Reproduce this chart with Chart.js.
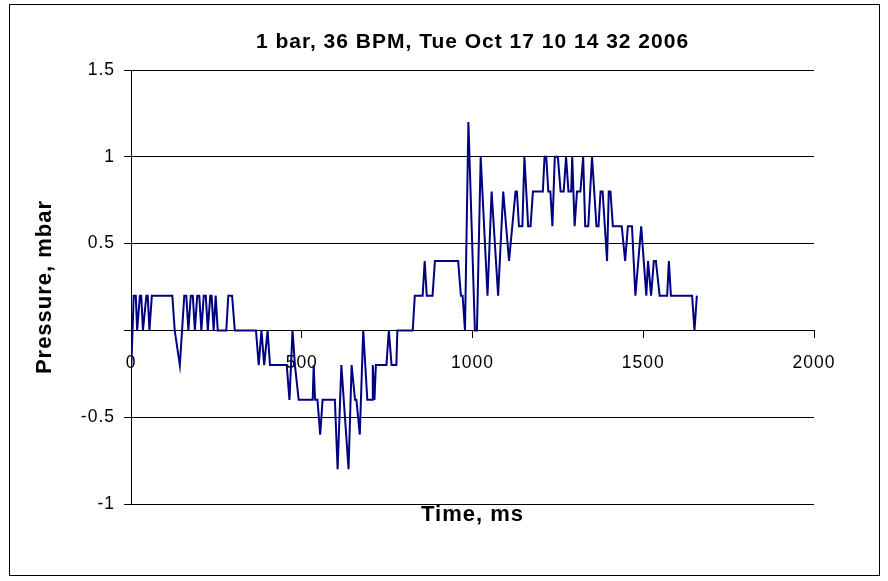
<!DOCTYPE html>
<html>
<head>
<meta charset="utf-8">
<title>Pressure trace</title>
<script src="https://cdn.jsdelivr.net/npm/chart.js@4.4.1/dist/chart.umd.min.js"></script>
<style>
  html, body { margin: 0; padding: 0; background: #fff; }
  canvas { display: block; }
</style>
</head>
<body>
<canvas id="chart" width="888" height="581"></canvas>
<script>
// Pressure trace: time in ms, pressure in mbar
const timeMs = [
    1, 8, 14, 18, 26, 30, 35, 45, 49, 54, 61, 121, 128, 143, 156, 162, 168, 175,
    181, 187, 194, 200, 206, 213, 219, 225, 232, 236, 242, 248, 254, 279, 285, 296, 304, 366,
    374, 382, 390, 400, 407, 456, 464, 473, 480, 491, 532, 535, 539, 546, 554, 561,
    597, 605, 616, 637, 646, 656, 660, 670, 680, 692, 706, 708, 713, 717, 748, 755, 763, 777, 780, 825,
    831, 854, 860, 866, 883, 890, 958, 966, 971, 978, 988, 1007, 1013, 1024, 1044, 1056,
    1075, 1090, 1107, 1126, 1130, 1136, 1146, 1152, 1163, 1170, 1177, 1206, 1211, 1216,
    1222, 1228, 1234, 1241, 1250, 1258, 1267, 1274, 1281, 1289, 1292, 1299, 1306, 1316,
    1324, 1330, 1339, 1350, 1363, 1369, 1375, 1381, 1394, 1399, 1404, 1411, 1437, 1447,
    1455, 1467, 1477, 1494, 1509, 1514, 1523, 1531, 1537, 1548, 1570, 1575, 1581, 1643, 1650, 1657
];
const pressureMbar = [
    -0.2, 0.2, 0.2, 0, 0.2, 0.2, 0, 0.2, 0.2, 0, 0.2, 0.2, 0, -0.2, 0.2, 0.2, 0, 0.2,
    0.2, 0, 0.2, 0.2, 0, 0.2, 0.2, 0, 0.2, 0.2, 0, 0.2, 0, 0, 0.2, 0.2, 0, 0,
    -0.2, 0, -0.2, 0, -0.2, -0.2, -0.4, 0, -0.2, -0.4, -0.4, -0.2, -0.4, -0.4, -0.6, -0.4,
    -0.4, -0.8, -0.2, -0.8, -0.2, -0.4, -0.4, -0.6, 0, -0.4, -0.4, -0.2, -0.4, -0.2, -0.2, 0, -0.2, -0.2, 0, 0,
    0.2, 0.2, 0.4, 0.2, 0.2, 0.4, 0.4, 0.2, 0.2, 0, 1.2, 0, 0, 1.0, 0.2, 0.8,
    0.2, 0.8, 0.4, 0.8, 0.8, 0.6, 0.6, 1.0, 0.6, 0.6, 0.8, 0.8, 1.0, 1.0,
    0.8, 0.8, 0.6, 1.0, 1.0, 0.8, 0.8, 1.0, 0.8, 0.8, 1.0, 0.6, 0.8, 0.8,
    1.0, 0.6, 0.6, 1.0, 0.6, 0.6, 0.8, 0.8, 0.4, 0.8, 0.8, 0.6, 0.6, 0.4,
    0.6, 0.6, 0.2, 0.6, 0.2, 0.4, 0.2, 0.4, 0.4, 0.2, 0.2, 0.4, 0.2, 0.2, 0, 0.2
];

const xTickValues = [0, 500, 1000, 1500, 2000];
const yTickValues = [-1, -0.5, 0, 0.5, 1, 1.5];

const chartTitle = '1 bar, 36 BPM, Tue Oct 17 10 14 32 2006';
const xAxisTitle = 'Time, ms';
const yAxisTitle = 'Pressure, mbar';

const FONT = "'Liberation Sans', Arial, sans-serif";

// Excel renders text a little wider than Arial metrics, so add some tracking
const textSpacing = {
    id: 'textSpacing',
    beforeUpdate(chart) { chart.ctx.letterSpacing = '1px'; },
    beforeDraw(chart) { chart.ctx.letterSpacing = '1px'; }
};

// thin frame around the whole chart object
const chartFrame = {
    id: 'chartFrame',
    afterDraw(chart) {
        const ctx = chart.ctx;
        ctx.save();
        ctx.strokeStyle = '#000';
        ctx.lineWidth = 1;
        ctx.strokeRect(9.5, 4.5, 870, 571);
        ctx.restore();
    }
};

const points = timeMs.map((t, i) => ({ x: t, y: pressureMbar[i] }));

new Chart(document.getElementById('chart'), {
    type: 'scatter',
    data: {
        datasets: [{
            data: points,
            showLine: true,
            borderColor: '#000080',
            borderWidth: 2,
            pointRadius: 0,
            fill: false,
            tension: 0
        }]
    },
    options: {
        animation: false,
        responsive: false,
        devicePixelRatio: 1,
        layout: { padding: { left: 10, right: 74, top: 0, bottom: 0 } },
        plugins: {
            legend: { display: false },
            tooltip: { enabled: false },
            title: {
                display: true,
                text: chartTitle,
                fullSize: false,
                color: '#000',
                font: { family: FONT, size: 21, weight: 'bold' },
                padding: { top: 30, bottom: 14.8 }
            },
            subtitle: {
                display: true,
                position: 'bottom',
                text: xAxisTitle,
                fullSize: false,
                color: '#000',
                font: { family: FONT, size: 22, weight: 'bold', lineHeight: 1 },
                padding: { top: 0, bottom: 55 }
            }
        },
        scales: {
            x: {
                type: 'linear',
                position: { y: 0 },
                min: 0,
                max: 2000,
                afterBuildTicks: scale => { scale.ticks = xTickValues.map(v => ({ value: v })); },
                grid: { drawOnChartArea: false, drawTicks: true, tickLength: 7, color: '#000' },
                border: { color: '#000', width: 1 },
                ticks: {
                    color: '#000',
                    font: { family: FONT, size: 17.5 },
                    padding: 15,
                    maxRotation: 0,
                    autoSkip: false,
                    callback: value => String(value)
                }
            },
            y: {
                min: -1,
                max: 1.5,
                afterBuildTicks: scale => { scale.ticks = yTickValues.map(v => ({ value: v })); },
                afterFit: scale => { scale.width = 121; },
                grid: { color: '#000', tickLength: 7 },
                border: { color: '#000', width: 1 },
                ticks: {
                    color: '#000',
                    font: { family: FONT, size: 17.5 },
                    padding: 9,
                    // the axes cross at zero, the 0 label only shows on the time axis
                    callback: value => (value === 0 ? '' : String(value))
                },
                title: {
                    display: true,
                    text: yAxisTitle,
                    color: '#000',
                    font: { family: FONT, size: 22, weight: 'bold', lineHeight: 1 },
                    padding: { top: 24, bottom: 0 }
                }
            }
        }
    },
    plugins: [textSpacing, chartFrame]
});
</script>
</body>
</html>
